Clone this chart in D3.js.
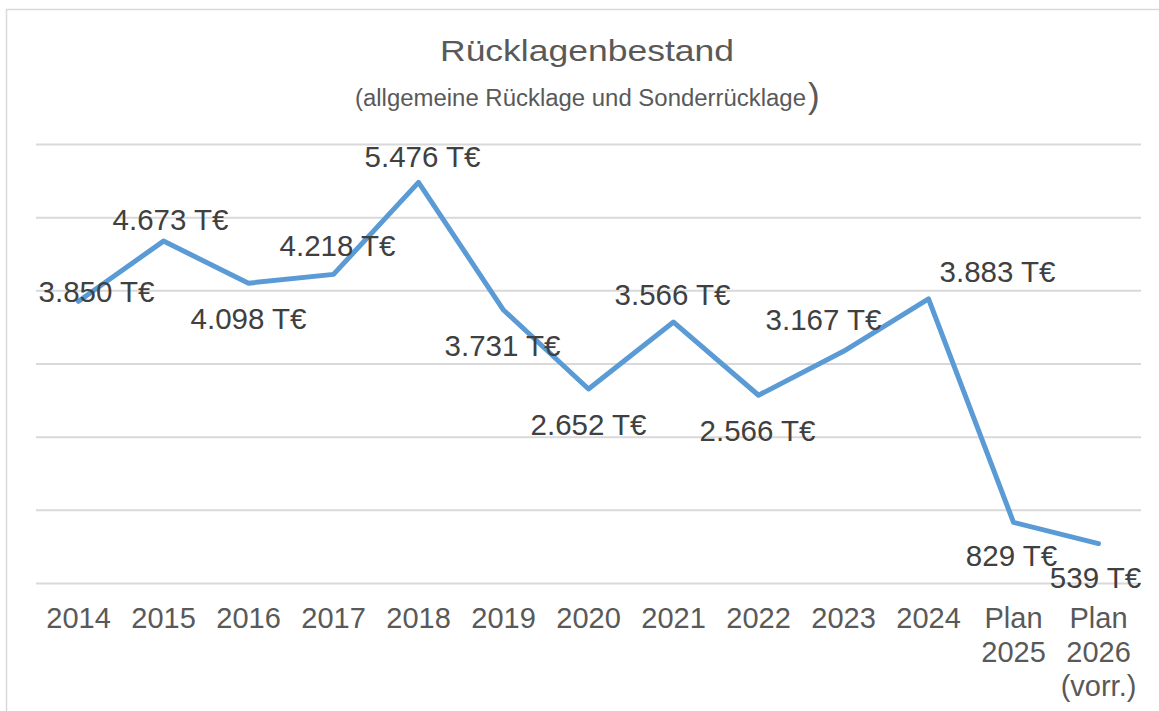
<!DOCTYPE html>
<html><head><meta charset="utf-8">
<script src="https://cdn.jsdelivr.net/npm/d3@7"></script>
<style>
html,body{margin:0;padding:0;background:#fff;}
svg{display:block;font-family:"Liberation Sans",Arial,sans-serif;}
</style></head>
<body>
<svg id="chart" width="1159" height="711"></svg>
<script>
const categories = ["2014","2015","2016","2017","2018","2019","2020","2021","2022","2023","2024","Plan 2025","Plan 2026 (vorr.)"];
const categoryLines = [["2014"],["2015"],["2016"],["2017"],["2018"],["2019"],["2020"],["2021"],["2022"],["2023"],["2024"],["Plan","2025"],["Plan","2026","(vorr.)"]];
const values = [3850, 4673, 4098, 4218, 5476, 3731, 2652, 3566, 2566, 3167, 3883, 829, 539];
const yTicks = [0, 1000, 2000, 3000, 4000, 5000, 6000];
// label offsets (dx, dy) relative to the point, in px
const labelOffsets = [[18,1],[7,-11],[0,46],[4,-18],[4,-15],[-1,46],[0,46],[-1,-17],[-1,46],[-20,-21],[69,-17],[-2,44],[-3,44]];

const svg = d3.select("#chart");
const W = 1159, H = 711;
const margin = {left:36, right:18, top:144, bottom:128};

svg.append("rect").attr("x",6.5).attr("y",9.5).attr("width",W+10).attr("height",H+10)
  .attr("fill","#fff").attr("stroke","#d9d9d9").attr("stroke-width",1.5);

const x = d3.scaleBand().domain(categories).range([margin.left, W - margin.right]);
const y = d3.scaleLinear().domain([0, 6000]).range([H - margin.bottom, margin.top]);

// gridlines
svg.append("g").attr("transform",`translate(${margin.left},0)`)
  .call(d3.axisLeft(y).tickValues(yTicks).tickSize(-(W - margin.right - margin.left)).tickFormat(""))
  .call(g => g.select(".domain").remove())
  .call(g => g.selectAll("line").attr("stroke","#d9d9d9").attr("stroke-width",2));

// x axis labels
const xAxis = svg.append("g").attr("transform",`translate(0,${H - margin.bottom})`)
  .call(d3.axisBottom(x).tickSize(0).tickFormat(""));
xAxis.select(".domain").remove();
xAxis.selectAll(".tick").each(function(d,i){
  const t = d3.select(this).append("text").attr("fill","#595959")
    .attr("font-size","29px").attr("text-anchor","middle").attr("y",45);
  categoryLines[i].forEach((s,j)=>{
    t.append("tspan").attr("x",0).attr("dy", j===0?0:34).text(s);
  });
});

// line
const line = d3.line().x((d,i)=>x(categories[i]) + x.bandwidth()/2).y(d=>y(d));
svg.append("path").datum(values).attr("d",line).attr("fill","none")
  .attr("stroke","#5b9bd5").attr("stroke-width",5).attr("stroke-linejoin","round").attr("stroke-linecap","round");

// data labels
const fmt = v => d3.format(",")(v).replace(/,/g,".") + " T€";
svg.append("g").selectAll("text").data(values).join("text")
  .attr("x",(d,i)=>x(categories[i]) + x.bandwidth()/2 + labelOffsets[i][0])
  .attr("y",(d,i)=>y(d) + labelOffsets[i][1])
  .attr("text-anchor","middle").attr("fill","#404040").attr("font-size","29.5px")
  .text(fmt);

// title
svg.append("text").attr("x",587).attr("y",61).attr("text-anchor","middle")
  .attr("fill","#595959").attr("font-size","30px")
  .attr("textLength",294).attr("lengthAdjust","spacingAndGlyphs").text("Rücklagenbestand");
svg.append("text").attr("x",355).attr("y",106).attr("fill","#595959").attr("font-size","23px")
  .attr("textLength",451).attr("lengthAdjust","spacingAndGlyphs").text("(allgemeine Rücklage und Sonderrücklage");
svg.append("text").attr("x",808).attr("y",108).attr("fill","#595959").attr("font-size","35px").text(")");
</script>
</body></html>
